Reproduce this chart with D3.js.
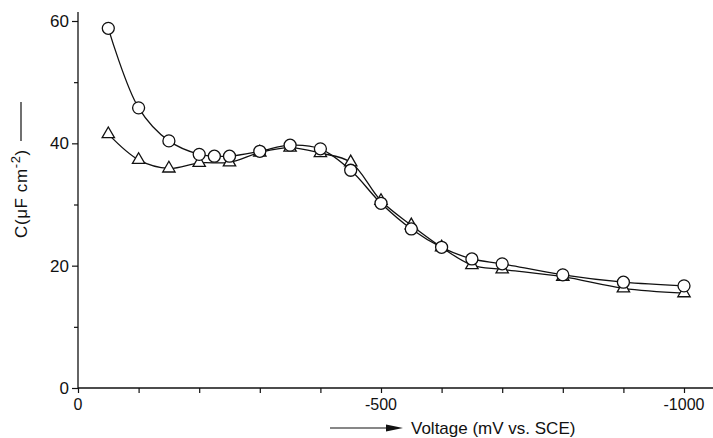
<!DOCTYPE html>
<html>
<head>
<meta charset="utf-8">
<script src="https://cdn.jsdelivr.net/npm/d3@7"></script>
<style>
  body { margin: 0; background: #fff; }
  svg text { font-family: "Liberation Sans", Arial, sans-serif; fill: #111; }
</style>
</head>
<body>
<svg id="svg1" width="713" height="438"></svg>
<script>
// values (voltage in mV vs. SCE, capacitance in uF cm^-2)
const circleVolts = [-50, -100, -150, -200, -225, -250, -300, -350, -400, -450, -500, -550, -600, -650, -700, -800, -900, -1000];
const circleCap   = [58.8, 45.8, 40.4, 38.2, 37.9, 37.9, 38.7, 39.7, 39.1, 35.6, 30.2, 26.0, 23.0, 21.1, 20.3, 18.5, 17.3, 16.7];
const triVolts = [-50, -100, -150, -200, -250, -300, -350, -400, -450, -500, -550, -600, -650, -700, -800, -900, -1000];
const triCap   = [41.5, 37.3, 35.9, 36.8, 36.9, 38.5, 39.3, 38.4, 36.9, 30.6, 26.6, 23.0, 20.1, 19.4, 18.2, 16.3, 15.5];
const yMajor = [0, 20, 40, 60];
const yMinor = [10, 30, 50];
const xTicks = d3.range(0, -1001, -100);
const xLabels = [0, -500, -1000];

const svg = d3.select("#svg1");
const x = d3.scaleLinear().domain([0, -1000]).range([78, 684]);
const y = d3.scaleLinear().domain([0, 60]).range([388, 21]);

// y axis
const gy = svg.append("g").attr("transform", `translate(${x(0)},0)`);
gy.call(d3.axisLeft(y).tickValues(yMajor).tickSize(6).tickPadding(3).tickFormat(d => String(d)));
gy.append("g").call(d3.axisLeft(y).tickValues(yMinor).tickSize(4).tickFormat(""))
  .select(".domain").remove();
gy.select(".domain").remove();
gy.append("line").attr("x1", 0).attr("x2", 0).attr("y1", 12).attr("y2", y(0))
  .attr("stroke", "#111").attr("stroke-width", 1.3);
gy.selectAll(".tick line").attr("stroke", "#111").attr("stroke-width", 1.2);
gy.selectAll(".tick text").style("font-size", "17px").attr("fill", "#111");

// x axis
const gx = svg.append("g").attr("transform", `translate(0,${y(0)})`);
gx.call(d3.axisBottom(x).tickValues(xTicks).tickSize(5).tickFormat(""));
gx.select(".domain").remove();
gx.append("line").attr("x1", x(0)).attr("x2", 713).attr("y1", 0).attr("y2", 0)
  .attr("stroke", "#111").attr("stroke-width", 1.3);
gx.selectAll(".tick line").attr("stroke", "#111").attr("stroke-width", 1.2);
gx.selectAll(".xlab")
  .data(xLabels)
  .enter().append("text")
    .attr("class", "xlab")
    .attr("x", d => x(d))
    .attr("y", 22)
    .attr("text-anchor", "middle")
    .style("font-size", "16px")
    .text(d => String(d));

// axis titles
const yt = svg.append("g").attr("transform", "translate(27,238) rotate(-90)");
yt.append("text")
  .style("font-size", "17px")
  .style("letter-spacing", "0.6px")
  .html('C(<tspan>μ</tspan>F cm<tspan dy="-7" font-size="13px">-2</tspan><tspan dy="7">)</tspan>');
svg.append("line").attr("x1", 21).attr("x2", 21).attr("y1", 141).attr("y2", 102)
  .attr("stroke", "#111").attr("stroke-width", 1.2);

svg.append("line").attr("x1", 330).attr("x2", 392).attr("y1", 428).attr("y2", 428)
  .attr("stroke", "#111").attr("stroke-width", 1.2);
svg.append("path").attr("d", "M386,424.5 L403,428 L386,431.5 Z").attr("fill", "#111");
svg.append("text").attr("x", 411).attr("y", 434).style("font-size", "17px")
  .text("Voltage (mV vs. SCE)");

// curves
const line = d3.line().curve(d3.curveCatmullRom.alpha(0.5))
  .x(d => x(d[0])).y(d => y(d[1]));
const circlePts = circleVolts.map((v, i) => [v, circleCap[i]]);
const triPts = triVolts.map((v, i) => [v, triCap[i]]);

svg.append("path").datum(triPts).attr("d", line)
  .attr("fill", "none").attr("stroke", "#111").attr("stroke-width", 1.3);
svg.append("path").datum(circlePts).attr("d", line)
  .attr("fill", "none").attr("stroke", "#111").attr("stroke-width", 1.3);

// markers
svg.selectAll(".tri")
  .data(triPts)
  .enter().append("path")
    .attr("class", "tri")
    .attr("d", d3.symbol().type(d3.symbolTriangle).size(66))
    .attr("transform", d => `translate(${x(d[0])},${y(d[1])})`)
    .attr("fill", "#fff").attr("stroke", "#111").attr("stroke-width", 1.3);

svg.selectAll(".circ")
  .data(circlePts)
  .enter().append("circle")
    .attr("class", "circ")
    .attr("cx", d => x(d[0]))
    .attr("cy", d => y(d[1]))
    .attr("r", 6)
    .attr("fill", "#fff").attr("stroke", "#111").attr("stroke-width", 1.3);
</script>
</body>
</html>
